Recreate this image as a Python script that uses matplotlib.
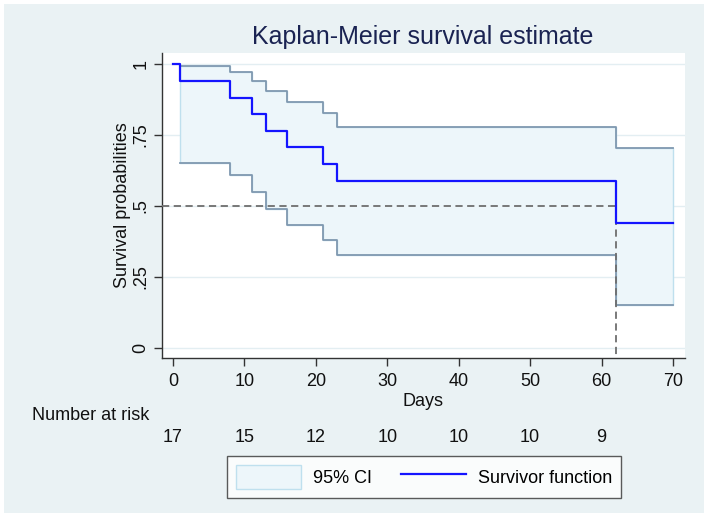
import matplotlib
matplotlib.use("Agg")
import matplotlib.pyplot as plt
import matplotlib.transforms as mtransforms
from matplotlib.patches import Rectangle, Patch
from matplotlib.lines import Line2D

plt.rcParams['font.family'] = ['Liberation Sans', 'DejaVu Sans']

# Data
times = [0, 1, 8, 11, 13, 16, 21, 23, 62, 70]
surv = [1.0, 0.941, 0.882, 0.824, 0.765, 0.706, 0.647, 0.588, 0.441, 0.441]
ci_times = [1, 8, 11, 13, 16, 21, 23, 62, 70]
ci_upper = [0.993, 0.971, 0.941, 0.906, 0.867, 0.826, 0.779, 0.705, 0.705]
ci_lower = [0.652, 0.608, 0.548, 0.489, 0.433, 0.379, 0.327, 0.151, 0.151]
median_time = 62
median_level = 0.5
risk_days = [0, 10, 20, 30, 40, 50, 60]
risk_n = [17, 15, 12, 10, 10, 10, 9]
xticks = [0, 10, 20, 30, 40, 50, 60, 70]
yticks = [0, 0.25, 0.5, 0.75, 1]
yticklabels = ["0", ".25", ".5", ".75", "1"]

bg = "#eaf2f4"
fs = 13
fig = plt.figure(figsize=(7.09, 5.18), dpi=100)
fig.patch.set_facecolor("white")
fig.patches.append(Rectangle((4/709, 5/518), 700/709, 509/518, transform=fig.transFigure,
                             facecolor=bg, edgecolor="none", zorder=-10))

ax = fig.add_axes([162/709, 1-358/518, (685-162)/709, (358-53)/518])
ax.set_facecolor("white")
ax.set_xlim(-1.54, 71.68)
ax.set_ylim(-0.0352, 1.0387)

for y in yticks:
    ax.axhline(y, color="#e3eef2", lw=1.0, zorder=0)

ax.fill_between(ci_times, ci_lower, ci_upper, step="post", facecolor="#edf6fa",
                edgecolor="#bfe0ee", lw=1.0, zorder=1)
ax.step(ci_times, ci_upper, where="post", color="#8099b0", lw=1.3, zorder=2)
ax.step(ci_times, ci_lower, where="post", color="#8099b0", lw=1.3, zorder=2)

xl = ax.get_xlim()[0]
yb = ax.get_ylim()[0]
ax.plot([xl, median_time], [median_level, median_level], color="#6e6e6e", lw=1.3,
        ls=(0, (4, 2.5)), zorder=3)
ax.plot([median_time, median_time], [median_level, yb], color="#6e6e6e", lw=1.3,
        ls=(0, (4, 2.5)), zorder=3)

ax.step(times, surv, where="post", color="#1414ff", lw=1.6, zorder=4)

for s in ["top", "right"]:
    ax.spines[s].set_visible(False)
for s in ["left", "bottom"]:
    ax.spines[s].set_color("#333333")
    ax.spines[s].set_linewidth(1.0)

ax.set_xticks(xticks)
ax.set_yticks(yticks)
ax.set_yticklabels(yticklabels, rotation=90, va="center")
ax.tick_params(axis="both", direction="out", length=6, width=1, color="#333333",
               labelsize=fs, labelcolor="#111111")
ax.tick_params(axis="x", pad=5)
ax.tick_params(axis="y", pad=3)
ax.set_xlabel("Days", fontsize=fs, labelpad=2, color="#111111")
ax.set_ylabel("Survival probabilities", fontsize=fs, labelpad=1, color="#111111")

fig.text(423/709, 1-37/518, "Kaplan-Meier survival estimate", ha="center", va="center",
         fontsize=18, color="#1a2352")

trans = mtransforms.blended_transform_factory(ax.transData, fig.transFigure)
fig.text(32/709, 1-415/518, "Number at risk", ha="left", va="center", fontsize=fs,
         color="#111111")
for d, n in zip(risk_days, risk_n):
    fig.text(d, 1-437/518, str(n), transform=trans, ha="center", va="center",
             fontsize=fs, color="#111111")

handles = [Patch(facecolor="#edf6fa", edgecolor="#bfe0ee", lw=1.0),
           Line2D([], [], color="#1414ff", lw=1.6)]
leg = fig.legend(handles, ["95% CI", "Survivor function"], loc="center",
                 bbox_to_anchor=(424/709, 1-477/518), ncol=2, frameon=True,
                 fontsize=fs, fancybox=False, edgecolor="#333333",
                 handlelength=3.6, handleheight=1.6, columnspacing=1.6,
                 borderpad=0.5, handletextpad=0.65)
leg.get_frame().set_linewidth(1.0)
leg.get_frame().set_facecolor("white")

fig.savefig("out.png", dpi=100, facecolor=fig.get_facecolor())
